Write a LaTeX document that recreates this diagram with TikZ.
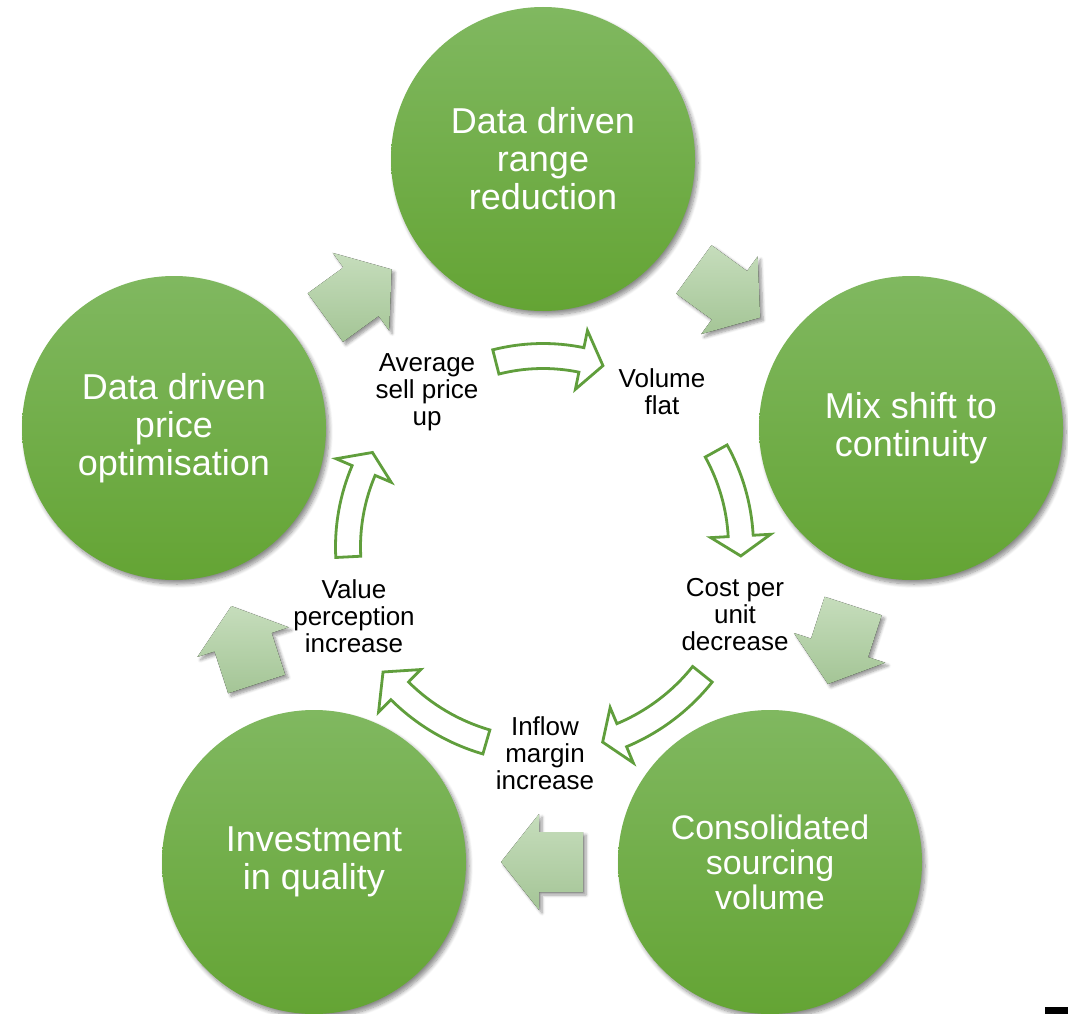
\documentclass[tikz,border=0pt]{standalone}
\usepackage{fontspec}
\setmainfont{Liberation Sans}
\usetikzlibrary{calc,shadows.blur}
\definecolor{gtop}{RGB}{128,184,96}
\definecolor{gbot}{RGB}{100,164,52}
\definecolor{atop}{RGB}{198,221,188}
\definecolor{abot}{RGB}{164,197,150}
\definecolor{gline}{RGB}{96,158,60}
\tikzset{
  bubble/.style={circle, minimum size=304pt, inner sep=0pt, top color=gtop, bottom color=gbot,
    draw=none, text=white, align=center, font=\fontsize{36}{38}\selectfont,
    blur shadow={shadow xshift=3pt, shadow yshift=-4pt, shadow blur radius=4pt, shadow blur steps=8, shadow opacity=45}},
  lbl/.style={align=center, font=\fontsize{26}{27}\selectfont, inner sep=0pt, text=black},
  hollow/.style={draw=gline, line width=2.8pt, fill=white, line join=miter},
  blockarr/.style={top color=atop, bottom color=abot, draw=none,
    blur shadow={shadow xshift=3pt, shadow yshift=-3pt, shadow blur radius=3pt, shadow blur steps=6, shadow opacity=40}},
}
% hollow curved arrow: #1 radius, #2 start angle, #3 head base angle, #4 tip angle
\newcommand{\hollowarc}[4]{%
  \draw[hollow, shift={(cen)}]
    (#2:#1+12.5) arc[start angle=#2, end angle=#3, radius=#1+12.5]
    -- (#3:#1+30) -- (#4:#1) -- (#3:#1-30) -- (#3:#1-12.5)
    arc[start angle=#3, end angle=#2, radius=#1-12.5] -- cycle;}
% block arrow between two nodes: #1 from, #2 to, #3 polar angle of its direction (y axis points down)
\newcommand{\blockarrow}[3]{%
  \coordinate (bm) at ($(#1)!0.5!(#2)$);
  \fill[blockarr]
    ($(bm)+(#3+143.81:50.80)$) -- ($(bm)+(#3+84.29:30.15)$) -- ($(bm)+(#3+86.42:48.09)$)
    -- ($(bm)+(#3:41)$)
    -- ($(bm)+(#3-86.42:48.09)$) -- ($(bm)+(#3-84.29:30.15)$) -- ($(bm)+(#3-143.81:50.80)$) -- cycle;}
\begin{document}
\begin{tikzpicture}[x=1pt, y=-1pt]
\useasboundingbox (0,0) rectangle (1068,1014);
\coordinate (cen) at (543,547);

% circles
\node[bubble] (top) at (543,159) {Data driven\\range\\reduction};
\node[bubble] (right) at (911,428) {Mix shift to\\continuity};
\node[bubble, font=\fontsize{34}{35}\selectfont] (bright) at (770,862) {Consolidated\\sourcing\\volume};
\node[bubble] (bleft) at (314,862) {Investment\\in quality};
\node[bubble] (left) at (174,428) {Data driven\\price\\optimisation};

% block arrows
\blockarrow{left}{top}{-36}
\blockarrow{top}{right}{36}
\blockarrow{right}{bright}{108}
\blockarrow{bright}{bleft}{180}
\blockarrow{bleft}{left}{-108}

% inner labels
\node[lbl] (l1) at (427,392) {Average\\sell price\\up};
\node[lbl] (l2) at (662,392) {Volume\\flat};
\node[lbl] (l3) at (735,615) {Cost per\\unit\\decrease};
\node[lbl] (l4) at (545,753) {Inflow\\margin\\increase};
\node[lbl] (l5) at (354,616) {Value\\perception\\increase};

% hollow curved arrows
\hollowarc{191}{-104.3}{-78.4}{-71.7}
\hollowarc{198}{-29}{-3.2}{2.6}
\hollowarc{204}{38.6}{67.3}{73}
\hollowarc{203}{106.2}{134.9}{142}
\hollowarc{195}{177.1}{203.1}{209}

% small black mark
\fill[black] (1045,1007) rectangle (1068,1014);
\end{tikzpicture}
\end{document}
